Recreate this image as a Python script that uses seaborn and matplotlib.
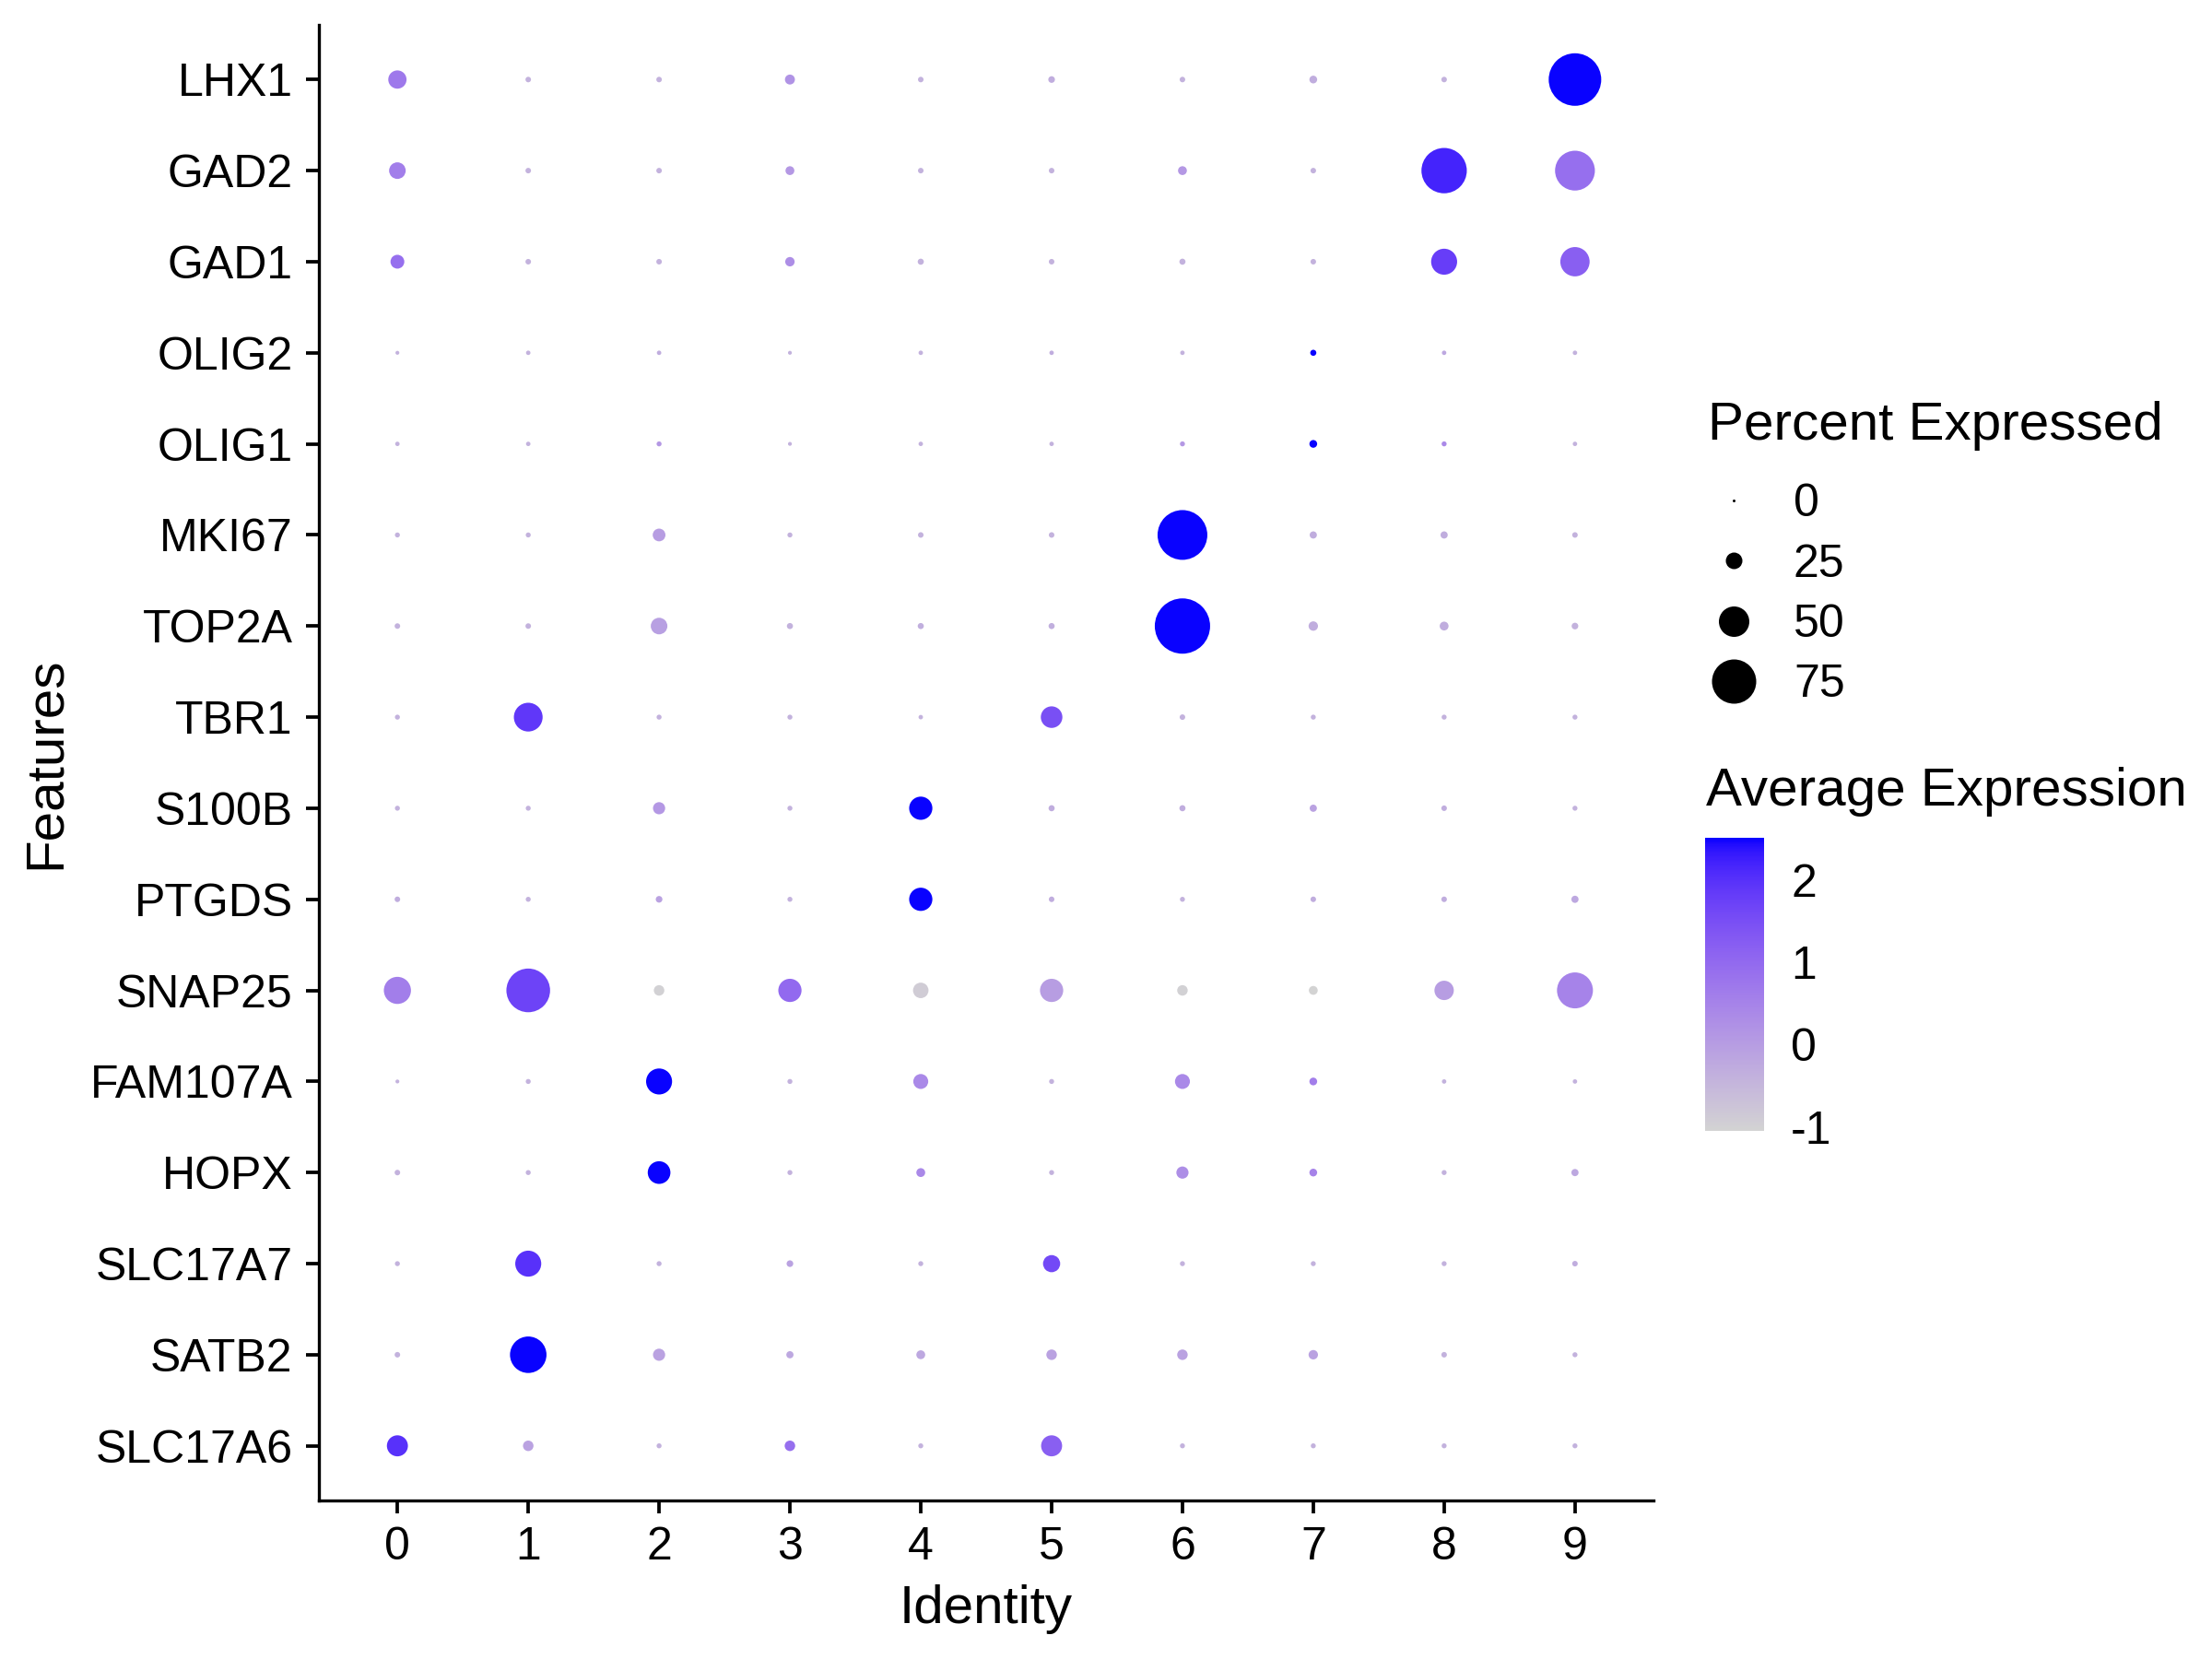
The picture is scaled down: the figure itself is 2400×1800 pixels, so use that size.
import numpy as np
import pandas as pd
import matplotlib
matplotlib.use("Agg")
import matplotlib.pyplot as plt
import seaborn as sns
from matplotlib.colors import ListedColormap, Normalize
from matplotlib.cm import ScalarMappable
from matplotlib.lines import Line2D

# ---------------- data ----------------
features = ["LHX1", "GAD2", "GAD1", "OLIG2", "OLIG1", "MKI67", "TOP2A", "TBR1",
            "S100B", "PTGDS", "SNAP25", "FAM107A", "HOPX", "SLC17A7", "SATB2", "SLC17A6"]
clusters = ["0", "1", "2", "3", "4", "5", "6", "7", "8", "9"]

pct_LHX1 = [28, 5, 5, 13, 5, 7, 5, 9, 5, 90]
avg_LHX1 = [0.7, -0.4, -0.4, 0.2, -0.4, -0.3, -0.4, -0.3, -0.4, 2.5]
pct_GAD2 = [25, 5, 5, 11, 5, 5, 11, 5, 77, 67]
avg_GAD2 = [0.6, -0.4, -0.4, 0.1, -0.4, -0.4, 0.1, -0.4, 2.2, 0.9]
pct_GAD1 = [20, 5, 5, 12, 6, 5, 6, 5, 42, 48]
avg_GAD1 = [0.9, -0.4, -0.4, 0.3, -0.4, -0.4, -0.4, -0.4, 1.8, 1.2]
pct_OLIG2 = [2, 3, 3, 2, 3, 3, 3, 6, 3, 3]
avg_OLIG2 = [-0.4, -0.4, -0.3, -0.4, -0.4, -0.3, -0.4, 2.5, -0.2, -0.4]
pct_OLIG1 = [3, 3, 4, 2, 3, 3, 4, 9, 4, 3]
avg_OLIG1 = [-0.4, -0.4, 0.1, -0.4, -0.4, -0.4, 0.1, 2.5, 0.4, -0.4]
pct_MKI67 = [4, 4, 18, 4, 5, 5, 85, 8, 8, 5]
avg_MKI67 = [-0.4, -0.4, 0.0, -0.4, -0.4, -0.4, 2.5, -0.3, -0.3, -0.4]
pct_TOP2A = [5, 5, 25, 6, 6, 6, 95, 12, 11, 7]
avg_TOP2A = [-0.4, -0.4, -0.05, -0.4, -0.35, -0.35, 2.5, -0.3, -0.3, -0.4]
pct_TBR1 = [4, 47, 4, 4, 3, 34, 5, 4, 4, 4]
avg_TBR1 = [-0.4, 1.9, -0.4, -0.4, -0.4, 1.5, -0.4, -0.4, -0.4, -0.4]
pct_S100B = [4, 4, 17, 4, 37, 6, 6, 8, 5, 4]
avg_S100B = [-0.4, -0.4, 0.1, -0.4, 2.5, -0.3, -0.3, -0.1, -0.3, -0.4]
pct_PTGDS = [5, 4, 7, 4, 37, 5, 4, 5, 5, 8]
avg_PTGDS = [-0.3, -0.4, -0.1, -0.4, 2.5, -0.3, -0.4, -0.3, -0.3, -0.2]
pct_SNAP25 = [44, 74, 14, 37, 23, 37, 14, 11, 30, 60]
avg_SNAP25 = [0.6, 1.7, -1.0, 1.0, -0.9, 0.0, -1.0, -1.05, 0.0, 0.5]
pct_FAM107A = [2, 4, 42, 4, 22, 4, 22, 9, 3, 3]
avg_FAM107A = [-0.4, -0.4, 2.5, -0.4, 0.4, -0.4, 0.4, 0.6, -0.4, -0.4]
pct_HOPX = [5, 4, 36, 4, 11, 4, 17, 9, 4, 8]
avg_HOPX = [-0.4, -0.4, 2.5, -0.4, 0.4, -0.4, 0.3, 0.5, -0.4, -0.2]
pct_SLC17A7 = [4, 42, 4, 7, 4, 26, 4, 4, 4, 5]
avg_SLC17A7 = [-0.4, 2.0, -0.4, -0.1, -0.4, 1.6, -0.4, -0.4, -0.4, -0.3]
pct_SATB2 = [5, 61, 17, 8, 11, 14, 14, 12, 5, 4]
avg_SATB2 = [-0.4, 2.5, -0.1, -0.2, -0.2, -0.1, -0.1, -0.1, -0.4, -0.4]
pct_SLC17A6 = [33, 14, 4, 14, 4, 33, 4, 4, 4, 4]
avg_SLC17A6 = [2.0, -0.1, -0.4, 0.9, -0.4, 1.2, -0.4, -0.4, -0.4, -0.4]

size_breaks = [0, 25, 50, 75]
color_ticks = [-1, 0, 1, 2]
color_limits = (-1.05, 2.52)

pct_rows = [pct_LHX1, pct_GAD2, pct_GAD1, pct_OLIG2, pct_OLIG1, pct_MKI67, pct_TOP2A,
            pct_TBR1, pct_S100B, pct_PTGDS, pct_SNAP25, pct_FAM107A, pct_HOPX,
            pct_SLC17A7, pct_SATB2, pct_SLC17A6]
avg_rows = [avg_LHX1, avg_GAD2, avg_GAD1, avg_OLIG2, avg_OLIG1, avg_MKI67, avg_TOP2A,
            avg_TBR1, avg_S100B, avg_PTGDS, avg_SNAP25, avg_FAM107A, avg_HOPX,
            avg_SLC17A7, avg_SATB2, avg_SLC17A6]

# long table; bottom feature first so it gets the lowest position
records = []
for f, prow, arow in reversed(list(zip(features, pct_rows, avg_rows))):
    for c, p, a in zip(clusters, prow, arow):
        records.append({"feature": f, "cluster": c, "pct": p, "avg": a})
df = pd.DataFrame(records)

# ---------------- colour scale (CIELAB ramp lightgrey -> blue) ----------------
def srgb_to_lab(rgb):
    rgb = np.asarray(rgb, float)
    lin = np.where(rgb <= 0.04045, rgb / 12.92, ((rgb + 0.055) / 1.055) ** 2.4)
    M = np.array([[0.4124, 0.3576, 0.1805], [0.2126, 0.7152, 0.0722], [0.0193, 0.1192, 0.9505]])
    xyz = M @ lin
    wp = np.array([0.95047, 1.0, 1.08883])
    t = xyz / wp
    f = np.where(t > (6 / 29) ** 3, np.cbrt(t), t / (3 * (6 / 29) ** 2) + 4 / 29)
    return np.array([116 * f[1] - 16, 500 * (f[0] - f[1]), 200 * (f[1] - f[2])])

def lab_to_srgb(lab):
    L, a, b = lab
    fy = (L + 16) / 116
    fx = fy + a / 500
    fz = fy - b / 200
    def finv(t):
        return np.where(t > 6 / 29, t ** 3, 3 * (6 / 29) ** 2 * (t - 4 / 29))
    wp = np.array([0.95047, 1.0, 1.08883])
    xyz = wp * np.array([finv(fx), finv(fy), finv(fz)])
    Minv = np.array([[3.2406, -1.5372, -0.4986], [-0.9689, 1.8758, 0.0415], [0.0557, -0.2040, 1.0570]])
    lin = np.clip(Minv @ xyz, 0, 1)
    rgb = np.where(lin <= 0.0031308, 12.92 * lin, 1.055 * lin ** (1 / 2.4) - 0.055)
    return np.clip(rgb, 0, 1)

lab_lo = srgb_to_lab([211 / 255, 211 / 255, 211 / 255])
lab_hi = srgb_to_lab([0, 0, 1])
ramp = [lab_to_srgb(lab_lo + t * (lab_hi - lab_lo)) for t in np.linspace(0, 1, 256)]
cmap = ListedColormap(ramp)
norm = Normalize(*color_limits)

# ---------------- size scale (radius linear in percent) ----------------
DPI = 300
def pct_to_diam_pt(p):
    return (3.0 + 0.6 * p) * 72.0 / DPI

size_map = {p: pct_to_diam_pt(p) ** 2 for p in df["pct"].unique()}

# ---------------- figure ----------------
sns.set_style("white")
plt.rcParams["font.family"] = ["Liberation Sans", "DejaVu Sans"]
plt.rcParams["axes.unicode_minus"] = False
plt.rcParams["text.color"] = "black"
plt.rcParams["axes.labelcolor"] = "black"
plt.rcParams["xtick.color"] = "black"
plt.rcParams["ytick.color"] = "black"

fig = plt.figure(figsize=(8, 6), dpi=DPI)
ax = fig.add_axes([346 / 2400, 1 - 1628 / 1800, 1448 / 2400, 1601 / 1800])

sns.scatterplot(data=df, x="cluster", y="feature", hue="avg", size="pct",
                palette=cmap, hue_norm=color_limits, sizes=size_map,
                legend=False, linewidth=0, ax=ax)

ax.set_xlim(-0.6, len(clusters) - 1 + 0.6)
ax.set_ylim(-0.6, len(features) - 1 + 0.6)

for side in ["top", "right"]:
    ax.spines[side].set_visible(False)
for side in ["left", "bottom"]:
    ax.spines[side].set_linewidth(0.8)
    ax.spines[side].set_color("black")

ax.tick_params(axis="both", which="major", length=3.4, width=0.9, color="black",
               labelsize=12, labelcolor="black", direction="out")
ax.tick_params(axis="x", pad=3.3, bottom=True)
ax.tick_params(axis="y", pad=3.4, left=True)

ax.set_xlabel("Identity", fontsize=14, color="black")
ax.set_ylabel("Features", fontsize=14, color="black")
ax.xaxis.set_label_coords(0.5, -0.057)
ax.yaxis.set_label_coords(-0.186, 0.5)

# size legend
fig.text(1853 / 2400, 1 - 477 / 1800, "Percent Expressed", fontsize=14,
         ha="left", va="baseline", color="black")
handles = [Line2D([], [], marker="o", linestyle="", color="black",
                  markeredgewidth=0, markersize=pct_to_diam_pt(p)) for p in size_breaks]
leg = ax.legend(handles, [str(b) for b in size_breaks],
                loc="upper left", bbox_to_anchor=(1853 / 2400, 1 - 524 / 1800),
                bbox_transform=fig.transFigure, frameon=False, borderpad=0,
                borderaxespad=0, handlelength=1.12, handletextpad=0.74,
                labelspacing=0.39, fontsize=12, labelcolor="black")

# colour bar
fig.text(1851 / 2400, 1 - 874 / 1800, "Average Expression", fontsize=14,
         ha="left", va="baseline", color="black")
cax = fig.add_axes([1850 / 2400, 1 - 1227 / 1800, 64 / 2400, 318 / 1800])
cb = fig.colorbar(ScalarMappable(norm=norm, cmap=cmap), cax=cax, ticks=color_ticks)
cb.outline.set_visible(False)
cb.minorticks_off()
cax.tick_params(which="major", direction="in", length=3.1, width=0.6, color="white",
                labelcolor="black", labelsize=12, left=True, right=True, pad=7)

fig.savefig("out.png", dpi=DPI)
